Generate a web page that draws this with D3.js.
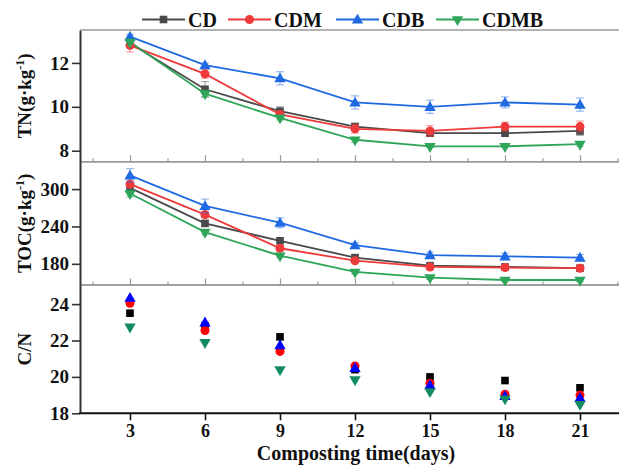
<!DOCTYPE html>
<html>
<head>
<meta charset="utf-8">
<script src="https://cdn.jsdelivr.net/npm/d3@7"></script>
<style>
  body { margin: 0; background: #fff; }
  svg { display: block; }
  text { font-family: "Liberation Serif", "Times New Roman", "DejaVu Serif", serif; font-weight: bold; }
</style>
</head>
<body>
<svg id="chart" width="619" height="473"></svg>
<script>
// composting days
var days = [3, 6, 9, 12, 15, 18, 21];
var seriesNames = ['CD', 'CDM', 'CDB', 'CDMB'];

// TN (g/kg)
var tnCD   = [12.9, 10.8, 9.8, 9.1, 8.8, 8.8, 8.9];
var tnCDM  = [12.8, 11.5, 9.65, 9.0, 8.9, 9.1, 9.1];
var tnCDB  = [13.2, 11.9, 11.3, 10.2, 10.0, 10.2, 10.1];
var tnCDMB = [12.95, 10.6, 9.5, 8.5, 8.2, 8.2, 8.3];
var tnErrCD   = [0.2, 0.35, 0.2, 0.15, 0.15, 0.15, 0.2];
var tnErrCDM  = [0.3, 0.2, 0.15, 0.2, 0.25, 0.2, 0.25];
var tnErrCDB  = [0.1, 0.1, 0.3, 0.3, 0.3, 0.25, 0.3];
var tnErrCDMB = [0.1, 0.15, 0.1, 0.1, 0.05, 0.05, 0.1];

// TOC (g/kg)
var tocCD   = [302, 245, 217, 190, 177, 175, 173];
var tocCDM  = [308, 259, 205, 185, 175, 174, 173];
var tocCDB  = [322, 273, 246, 210, 194, 192, 190];
var tocCDMB = [293, 231, 193, 167, 158, 154, 154];
var tocErrCD   = [5, 4, 4, 3, 3, 3, 3];
var tocErrCDM  = [5, 5, 4, 3, 3, 3, 3];
var tocErrCDB  = [11, 11, 8, 4, 5, 5, 5];
var tocErrCDMB = [6, 4, 3, 3, 3, 3, 3];

// C/N
var cnCD   = [23.5, 22.8, 22.2, 20.4, 20.0, 19.8, 19.4];
var cnCDM  = [24.05, 22.55, 21.4, 20.6, 19.65, 19.05, 19.0];
var cnCDB  = [24.35, 23.0, 21.75, 20.5, 19.55, 18.95, 18.85];
var cnCDMB = [22.75, 21.9, 20.4, 19.85, 19.2, 18.8, 18.5];

var tnTicks = [8, 10, 12];
var tocTicks = [180, 240, 300];
var cnTicks = [18, 20, 22, 24];

var lineColors = ['#4a4a4a', '#ee3a3a', '#1f6ae2', '#2ea559'];
var dotColors  = ['#000000', '#ff0000', '#0000ff', '#138a60'];
var shapes = ['square', 'circle', 'up', 'down'];
var FONT = '"Liberation Serif", "Times New Roman", "DejaVu Serif", serif';

var svg = d3.select('#chart');

var x = d3.scaleLinear().domain([1, 22.5]).range([80, 617.5]);

function symbolPath(shape) {
    if (shape === 'square') return d3.symbol().type(d3.symbolSquare).size(58)();
    if (shape === 'circle') return d3.symbol().type(d3.symbolCircle).size(64)();
    return d3.symbol().type(d3.symbolTriangle).size(56)();
}
function symbolTransform(shape, px, py) {
    var t = 'translate(' + px + ',' + py + ')';
    if (shape === 'down') t += ' rotate(180)';
    if (shape === 'up') t += ' translate(0,0.8)';
    return t;
}
function styleTicks(sel, size) {
    sel.attr('font-family', FONT).attr('font-weight', 'bold');
    sel.selectAll('text').attr('font-size', size).attr('fill', '#111')
        .style('font-family', FONT).style('font-weight', 'bold');
}

var panels = [
    { top: 30, bottom: 161.7, domain: [7.5, 13.5], ticks: tnTicks,
      values: [tnCD, tnCDM, tnCDB, tnCDMB], errs: [tnErrCD, tnErrCDM, tnErrCDB, tnErrCDMB],
      label: 'TN', lines: true },
    { top: 161.7, bottom: 285, domain: [146, 344], ticks: tocTicks,
      values: [tocCD, tocCDM, tocCDB, tocCDMB], errs: [tocErrCD, tocErrCDM, tocErrCDB, tocErrCDMB],
      label: 'TOC', lines: true },
    { top: 285, bottom: 413.3, domain: [18, 25.05], ticks: cnTicks,
      values: [cnCD, cnCDM, cnCDB, cnCDMB], errs: null,
      label: 'C/N', lines: false }
];

var minorDays = d3.range(1.5, 22.6, 3);

panels.forEach(function (p, pi) {
    var y = d3.scaleLinear().domain(p.domain).range([p.bottom, p.top]);
    var g = svg.append('g');

    // separators with upward ticks (top two panels)
    if (pi < 2) {
        var sep = g.append('g').attr('transform', 'translate(0,' + p.bottom + ')');
        sep.call(d3.axisTop(x).tickValues(days).tickSize(6.5).tickSizeOuter(0).tickFormat(''));
        sep.append('g').call(d3.axisTop(x).tickValues(minorDays).tickSize(3.5).tickSizeOuter(0).tickFormat(''));
        sep.selectAll('path').attr('stroke', '#9a9a9a').attr('stroke-width', 1.6)
            .attr('d', 'M' + x.range()[0] + ',0H619');
        sep.selectAll('line').attr('stroke', '#9a9a9a').attr('stroke-width', 1.2);
    }

    if (p.lines) {
        p.values.forEach(function (vals, si) {
            var line = d3.line().x(function (d, i) { return x(days[i]); }).y(function (d) { return y(d); });
            g.append('path').datum(vals).attr('d', line)
                .attr('fill', 'none').attr('stroke', lineColors[si]).attr('stroke-width', 1.8);
        });
    }
    p.values.forEach(function (vals, si) {
        var sg = g.append('g');
        if (p.errs) {
            var eg = sg.append('g').attr('stroke', lineColors[si]).attr('stroke-opacity', 0.45).attr('stroke-width', 1.2);
            vals.forEach(function (v, i) {
                var e = p.errs[si][i], cx = x(days[i]);
                eg.append('line').attr('x1', cx).attr('x2', cx).attr('y1', y(v - e)).attr('y2', y(v + e));
                eg.append('line').attr('x1', cx - 4).attr('x2', cx + 4).attr('y1', y(v - e)).attr('y2', y(v - e));
                eg.append('line').attr('x1', cx - 4).attr('x2', cx + 4).attr('y1', y(v + e)).attr('y2', y(v + e));
            });
        }
        sg.selectAll('path.m').data(vals).enter().append('path').attr('class', 'm')
            .attr('d', symbolPath(shapes[si]))
            .attr('transform', function (d, i) { return symbolTransform(shapes[si], x(days[i]), y(d)); })
            .attr('fill', p.lines ? lineColors[si] : dotColors[si]);
    });

    // left axis
    var ax = g.append('g').attr('transform', 'translate(80,0)')
        .call(d3.axisLeft(y).tickValues(p.ticks).tickFormat(d3.format('d'))
            .tickSize(8).tickPadding(3).tickSizeOuter(0));
    ax.select('path').attr('stroke', '#333').attr('stroke-width', 2);
    ax.selectAll('line').attr('stroke', '#333').attr('stroke-width', 1.6);
    styleTicks(ax, 19);

    // y title
    var cy = (p.top + p.bottom) / 2;
    var t = g.append('text').attr('transform', 'translate(31,' + cy + ') rotate(-90)')
        .attr('text-anchor', 'middle').attr('font-size', 19).attr('fill', '#111');
    if (p.label === 'C/N') {
        t.text('C/N');
    } else {
        t.append('tspan').text(p.label + '(g\u00b7kg');
        t.append('tspan').attr('dy', -7).attr('font-size', 12).text('-1');
        t.append('tspan').attr('dy', 7).text(')');
    }
});

// top border
svg.append('line').attr('x1', 80).attr('x2', 619).attr('y1', 30).attr('y2', 30)
    .attr('stroke', '#9a9a9a').attr('stroke-width', 1.6);

// bottom axis
var bx = svg.append('g').attr('transform', 'translate(0,413.3)')
    .call(d3.axisBottom(x).tickValues(days).tickFormat(d3.format('d'))
        .tickSize(7).tickPadding(4).tickSizeOuter(0));
bx.select('path').attr('stroke', '#111').attr('stroke-width', 2).attr('d', 'M79,0H619');
bx.selectAll('line').attr('stroke', '#111').attr('stroke-width', 1.6);
styleTicks(bx, 18);

svg.append('text').attr('x', 356).attr('y', 460).attr('text-anchor', 'middle')
    .attr('font-size', 20).attr('fill', '#111').text('Composting time(days)');

// legend
var legendX = [142, 228, 336, 436];
seriesNames.forEach(function (name, si) {
    var lx = legendX[si], ly = 19.5;
    svg.append('line').attr('x1', lx).attr('x2', lx + 43).attr('y1', ly).attr('y2', ly)
        .attr('stroke', lineColors[si]).attr('stroke-width', 1.8);
    svg.append('path').attr('d', symbolPath(shapes[si]))
        .attr('transform', symbolTransform(shapes[si], lx + 21.5, ly)).attr('fill', lineColors[si]);
    svg.append('text').attr('x', lx + 46).attr('y', ly + 7).attr('font-size', 20).attr('fill', '#111').text(name);
});
</script>
</body>
</html>
